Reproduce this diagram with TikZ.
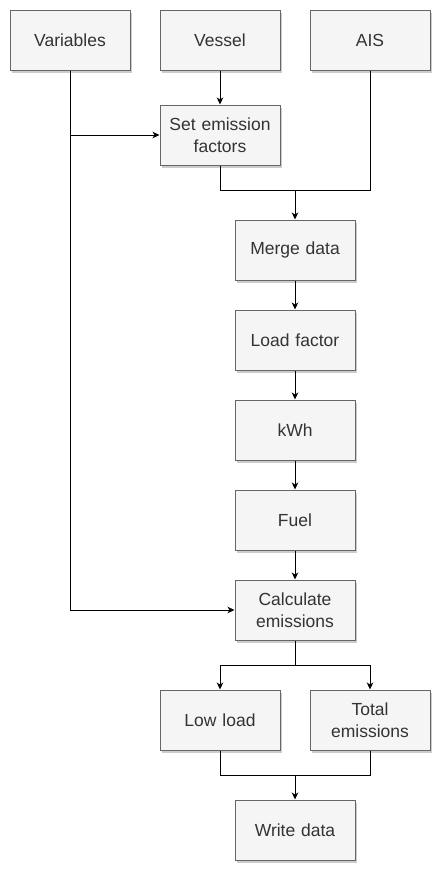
\documentclass[tikz,border=0pt]{standalone}
\usepackage{fontspec}
\setmainfont{Liberation Sans}
\usetikzlibrary{arrows.meta,shadows}
\definecolor{boxfill}{HTML}{F5F5F5}
\definecolor{boxline}{HTML}{666666}
\definecolor{boxtext}{HTML}{333333}
\begin{document}
\begin{tikzpicture}[x=1pt,y=-1pt,
  procbox/.style={draw=boxline, fill=boxfill, line width=1pt,
    minimum width=120pt, minimum height=60pt, inner sep=0pt,
    text=boxtext, align=center, text width=116pt,
    font=\fontsize{17.5}{22}\selectfont,
    drop shadow={shadow xshift=2pt, shadow yshift=-2.5pt, opacity=0.2, fill=black}},
  conn/.style={draw=black, line width=1pt},
  arr/.style={conn, -{Stealth[length=7pt,width=6.5pt,inset=2pt]}}]
\useasboundingbox (0,0) rectangle (442,873);
\node[procbox] (var) at (70,40) {Variables};
\node[procbox] (ves) at (220,40) {Vessel};
\node[procbox] (ais) at (370,40) {AIS};
\node[procbox] (sef) at (220,135) {Set emission\\factors};
\node[procbox] (mer) at (295,250) {Merge data};
\node[procbox] (lof) at (295,340) {Load factor};
\node[procbox] (kwh) at (295,430) {kWh};
\node[procbox] (fue) at (295,520) {Fuel};
\node[procbox] (cal) at (295,610) {Calculate\\emissions};
\node[procbox] (low) at (220,720) {Low load};
\node[procbox] (tot) at (370,720) {Total\\emissions};
\node[procbox] (wri) at (295,830) {Write data};
\coordinate (j1) at (295,190);
\coordinate (j2) at (295,665);
\coordinate (j3) at (295,775);
\draw[arr] (ves) -- (sef);
\draw[arr] (var.south) |- (sef.west);
\draw[arr] (var.south) |- (cal.west);
\draw[conn] (sef.south) |- (j1);
\draw[conn] (ais.south) |- (j1);
\draw[arr] (j1) -- (mer.north);
\draw[arr] (mer) -- (lof);
\draw[arr] (lof) -- (kwh);
\draw[arr] (kwh) -- (fue);
\draw[arr] (fue) -- (cal);
\draw[conn] (cal.south) -- (j2);
\draw[arr] (j2) -| (low.north);
\draw[arr] (j2) -| (tot.north);
\draw[conn] (low.south) |- (j3);
\draw[conn] (tot.south) |- (j3);
\draw[arr] (j3) -- (wri.north);
\end{tikzpicture}
\end{document}
